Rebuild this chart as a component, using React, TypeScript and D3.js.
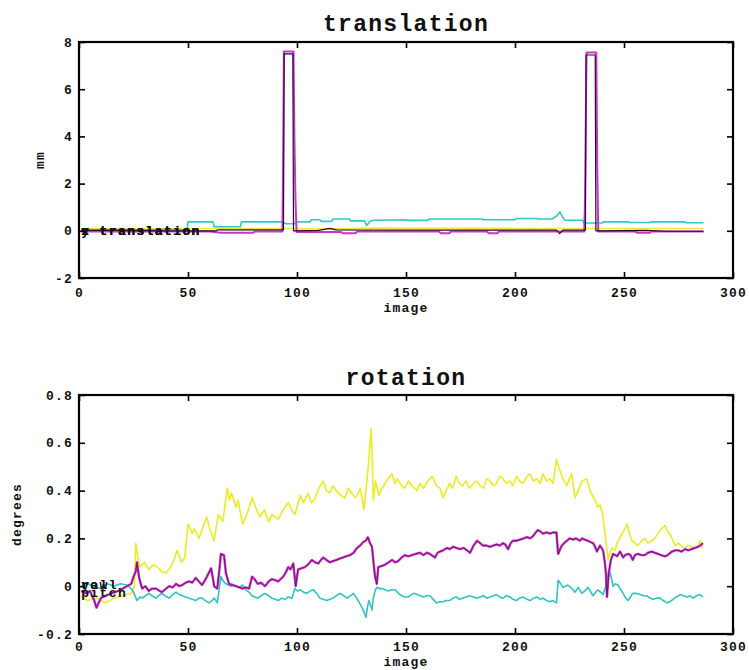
import React, { useEffect, useRef } from "react";
import * as d3 from "d3";

// ---- data (image index, value) ----
const xTicks = [0, 50, 100, 150, 200, 250, 300];
const transTicks = [-2, 0, 2, 4, 6, 8];
const rotTicks = [-0.2, 0, 0.2, 0.4, 0.6, 0.8];

type Pt = [number, number];

const transYellow: Pt[] = [
  [1, 0.08], [50, 0.1], [93, 0.1], [99, 0.1], [102, 0.08], [123, 0.08], [130, 0.12], [200, 0.1], [286.5, 0.1],
];

const transCyan: Pt[] = [
  [1, 0.05], [10, 0.04], [20, 0.05], [30, 0.04], [40, 0.05], [49.5, 0.05], [50, 0.38], [61.5, 0.38], [62, 0.17],
  [74, 0.17], [74.5, 0.38], [93, 0.38], [95, 0.3], [99, 0.3], [99.5, 0.38], [106, 0.38], [106.5, 0.47],
  [110.5, 0.47], [111, 0.4], [116, 0.4], [116.5, 0.5], [124, 0.5], [124.5, 0.42], [131, 0.42], [132, 0.22],
  [133.5, 0.4], [135, 0.45], [150, 0.47], [150.5, 0.44], [160, 0.44], [160.5, 0.5], [185, 0.5], [185.5, 0.47],
  [200, 0.47], [200.5, 0.52], [210, 0.52], [210.5, 0.5], [217, 0.5], [219, 0.62], [220.6, 0.8], [222, 0.55],
  [223, 0.45], [231, 0.45], [231.5, 0.33], [240, 0.33], [240.5, 0.38], [252, 0.38], [252.5, 0.35], [262, 0.35],
  [262.5, 0.38], [278, 0.38], [278.5, 0.34], [286.5, 0.34],
];

const transMagenta: Pt[] = [
  [1, -0.03], [60, -0.03], [65, -0.08], [80, -0.08], [80.5, -0.03], [93.3, -0.03], [93.6, 2.7], [94, 7.6],
  [98.4, 7.6], [98.8, 4.0], [99.3, 1.3], [99.8, -0.05], [120, -0.05], [121, -0.1], [127, -0.1], [127.5, -0.03],
  [165, -0.03], [166, -0.1], [170, -0.1], [170.5, -0.03], [187, -0.03], [188, -0.1], [192, -0.1], [192.5, -0.03],
  [231.8, -0.03], [232.1, 1.3], [232.4, 3.9], [232.8, 7.55], [237.3, 7.55], [237.7, 2.9], [238.2, -0.03],
  [255, -0.03], [256, -0.08], [262, -0.08], [262.5, -0.03], [286.5, -0.03],
];

const transDark: Pt[] = [
  [1, 0.02], [20, 0.02], [40, 0.0], [63, 0.0], [63.5, 0.04], [93.8, 0.04], [94.1, 7.5], [98.1, 7.5], [98.4, 0.0],
  [110, 0.02], [115, 0.1], [118, 0.04], [150, 0.03], [200, 0.03], [219, 0.03], [220.5, -0.12], [222, 0.03],
  [232.3, 0.03], [232.6, 7.45], [236.8, 7.45], [237.1, 0.0], [260, 0.02], [270, -0.02], [286.5, -0.02],
];

const rotYellow: Pt[] = [
  [1, -0.04], [4, -0.06], [8, -0.05], [12, -0.07], [16, -0.05], [20, -0.04], [24, -0.03], [25.5, 0.0], [26, 0.18],
  [27, 0.12], [28, 0.08], [30, 0.1], [32, 0.07], [34, 0.09], [36, 0.08], [38, 0.06], [40, 0.055], [42, 0.08],
  [44, 0.12], [45, 0.15], [47, 0.1], [48.5, 0.12], [50, 0.26], [52, 0.22], [53, 0.24], [55, 0.2], [57, 0.25],
  [58.6, 0.29], [60, 0.24], [62, 0.19], [63, 0.25], [64, 0.3], [66, 0.27], [68, 0.41], [69, 0.36], [70, 0.39],
  [72, 0.33], [73, 0.36], [75, 0.26], [77, 0.3], [79.5, 0.37], [81, 0.33], [83, 0.29], [85, 0.32], [87, 0.27],
  [88.5, 0.3], [90, 0.29], [91.5, 0.28], [93, 0.31], [96, 0.35], [97.5, 0.32], [99, 0.3], [101.5, 0.38],
  [103, 0.35], [105, 0.39], [106.5, 0.35], [108, 0.36], [110, 0.41], [112, 0.44], [113.5, 0.4], [115, 0.39],
  [116.5, 0.42], [118, 0.4], [120, 0.38], [122, 0.37], [123.5, 0.41], [125, 0.39], [127, 0.37], [129, 0.41],
  [130.7, 0.32], [132.6, 0.49], [134, 0.66], [134.6, 0.5], [135, 0.36], [136, 0.44], [137.5, 0.38], [139, 0.41],
  [141, 0.44], [143.6, 0.47], [145, 0.43], [146, 0.45], [148, 0.42], [149.5, 0.41], [151, 0.44], [152.7, 0.42],
  [155, 0.4], [156.5, 0.43], [158, 0.41], [160, 0.44], [162, 0.46], [164, 0.42], [165.6, 0.41], [167, 0.37],
  [168.5, 0.4], [170, 0.43], [171.5, 0.41], [173, 0.46], [174.5, 0.43], [176, 0.42], [177.5, 0.44], [179, 0.41],
  [181, 0.43], [182.5, 0.44], [184, 0.42], [185.5, 0.41], [187, 0.45], [188.5, 0.44], [190, 0.42], [191.5, 0.43],
  [193, 0.46], [194.5, 0.45], [196, 0.43], [197.7, 0.44], [199, 0.42], [200.7, 0.46], [202, 0.44], [203.7, 0.43],
  [205.5, 0.46], [206.9, 0.47], [208.5, 0.44], [210, 0.45], [211.5, 0.43], [212.8, 0.47], [214.5, 0.44],
  [216, 0.45], [217.5, 0.43], [219, 0.53], [220, 0.5], [221.5, 0.46], [222.5, 0.44], [223.8, 0.42], [225, 0.45],
  [226, 0.47], [227.5, 0.37], [229, 0.4], [230.7, 0.44], [233, 0.45], [234.4, 0.4], [235.5, 0.38], [236.7, 0.36],
  [238, 0.33], [239, 0.34], [240, 0.31], [241.3, 0.22], [242.7, 0.11], [243.5, 0.14], [244.5, 0.16], [246, 0.15],
  [246.8, 0.18], [248, 0.2], [249, 0.22], [250.5, 0.24], [251.4, 0.26], [252.5, 0.22], [253.7, 0.19], [255, 0.18],
  [256.4, 0.17], [258, 0.19], [259.6, 0.2], [261, 0.18], [262.8, 0.19], [264, 0.2], [265.6, 0.22], [267, 0.24],
  [268.8, 0.255], [270, 0.23], [271, 0.22], [272.5, 0.19], [273.4, 0.17], [275, 0.18], [276.6, 0.165],
  [278, 0.16], [279.4, 0.17], [281, 0.165], [282.6, 0.16], [284, 0.17], [284.9, 0.19], [286, 0.16],
];

const rotPurple: Pt[] = [
  [1, -0.02], [3, -0.03], [5, -0.02], [7, -0.06], [8, -0.09], [9, -0.07], [10, -0.05], [12, -0.04], [15, -0.03],
  [18, -0.02], [20, -0.01], [22, 0.0], [24, 0.01], [25, 0.04], [26, 0.06], [26.6, 0.1], [27.5, 0.04], [28, 0.02],
  [29, -0.01], [30.5, 0.0], [32, -0.02], [33.5, -0.01], [35.3, -0.01], [37, -0.02], [38, -0.025], [40, -0.01],
  [41.3, 0.0], [43, -0.005], [44.5, 0.01], [46, 0.0], [47.4, 0.005], [49, 0.015], [50.5, 0.02], [52, 0.015],
  [53.5, 0.035], [55, 0.02], [56.4, 0.005], [57.5, 0.02], [58.7, 0.04], [60.6, 0.075], [61.3, 0.04], [62, 0.0],
  [63.4, -0.01], [64.3, 0.06], [65.1, 0.135], [66.5, 0.13], [67.4, 0.055], [68.8, 0.01], [70.5, 0.005], [72, 0.0],
  [73.5, -0.005], [75, -0.01], [76.5, -0.005], [78, -0.01], [79.4, 0.04], [80.5, 0.03], [82, 0.01], [83.5, 0.015],
  [85.3, 0.0], [87, 0.02], [88.5, 0.03], [90, 0.025], [91.4, 0.02], [92.5, 0.03], [93.7, 0.04], [95, 0.06],
  [96, 0.08], [97, 0.07], [98.3, 0.095], [99.4, 0.0], [100.5, 0.07], [102, 0.075], [103.6, 0.08], [105, 0.09],
  [106.8, 0.11], [108.3, 0.1], [109.8, 0.095], [111, 0.11], [112, 0.12], [113.5, 0.11], [115, 0.1], [116.5, 0.105],
  [118.2, 0.11], [119.5, 0.115], [121, 0.12], [122.5, 0.125], [124.3, 0.13], [126, 0.14], [127.5, 0.16],
  [129, 0.17], [130.4, 0.185], [131.5, 0.19], [132.5, 0.205], [133.5, 0.18], [134.4, 0.165], [135.2, 0.09],
  [135.8, 0.04], [136.6, 0.01], [137.3, 0.08], [139, 0.085], [140.4, 0.09], [142, 0.1], [143.6, 0.11], [145, 0.1],
  [146.4, 0.105], [148, 0.12], [149.5, 0.13], [151, 0.125], [152.7, 0.13], [154.5, 0.135], [156.4, 0.14],
  [158, 0.13], [159.5, 0.14], [161, 0.135], [163.3, 0.12], [164.5, 0.14], [165.6, 0.145], [167, 0.15],
  [168.8, 0.16], [170, 0.155], [171.6, 0.165], [173, 0.16], [174.8, 0.155], [176.5, 0.16], [178, 0.15],
  [179.4, 0.14], [181, 0.17], [182.6, 0.19], [184, 0.18], [185.3, 0.17], [187, 0.17], [188.5, 0.165], [190, 0.17],
  [191.7, 0.175], [193, 0.17], [194.5, 0.18], [195.5, 0.175], [196.8, 0.155], [198, 0.18], [199, 0.19],
  [200.5, 0.19], [202.3, 0.195], [204, 0.2], [205.5, 0.205], [207, 0.2], [208.3, 0.21], [209.5, 0.225],
  [210.5, 0.235], [211.5, 0.23], [212.8, 0.22], [214.5, 0.225], [216, 0.22], [217.5, 0.225], [219, 0.225],
  [219.8, 0.135], [220.5, 0.15], [221.5, 0.17], [222.5, 0.18], [223.8, 0.19], [225, 0.2], [226.6, 0.195],
  [228, 0.2], [229.8, 0.19], [230.7, 0.2], [232, 0.195], [233.5, 0.19], [234.5, 0.185], [235.8, 0.18],
  [236.5, 0.17], [237.6, 0.145], [239, 0.17], [240.4, 0.15], [241.2, 0.1], [241.7, 0.055], [242.2, -0.045],
  [243, 0.055], [244, 0.11], [245, 0.135], [246, 0.13], [246.8, 0.125], [248.2, 0.145], [249.6, 0.12],
  [250.5, 0.13], [251.9, 0.135], [253, 0.13], [254, 0.11], [255, 0.13], [256.4, 0.135], [258, 0.13],
  [259.6, 0.13], [261, 0.14], [262.8, 0.145], [264, 0.14], [265.6, 0.135], [267, 0.13], [268.8, 0.125],
  [270, 0.13], [272, 0.145], [273.5, 0.15], [274.8, 0.15], [276.5, 0.145], [278, 0.155], [279.5, 0.15],
  [281, 0.155], [282.5, 0.16], [284, 0.165], [285, 0.17], [286.2, 0.18],
];

const rotCyan: Pt[] = [
  [1, 0.0], [4, 0.01], [7, 0.0], [10, -0.01], [13, 0.01], [16, 0.0], [19, 0.01], [22, 0.005], [24, -0.01],
  [25, -0.025], [26.6, -0.06], [28, -0.045], [29, -0.05], [30.5, -0.04], [32, -0.03], [33.5, -0.04],
  [35.3, -0.05], [36.5, -0.04], [38, -0.03], [39.5, -0.04], [41.3, -0.05], [43, -0.035], [44.5, -0.025],
  [46, -0.035], [47.4, -0.04], [49, -0.045], [50.5, -0.05], [52, -0.055], [53.5, -0.06], [55, -0.05],
  [56.4, -0.05], [58, -0.06], [59.6, -0.07], [61, -0.06], [62, -0.05], [63.4, -0.07], [64.2, -0.02],
  [65.1, 0.04], [66.3, 0.02], [67.4, 0.01], [68.5, 0.005], [69.7, 0.0], [71, 0.005], [72, 0.0], [73.5, -0.005],
  [75, 0.005], [76.5, -0.015], [78, -0.025], [79.4, -0.04], [80.7, -0.045], [82, -0.05], [83.5, -0.04],
  [85.3, -0.03], [87, -0.04], [88.5, -0.05], [90, -0.055], [91.4, -0.06], [93, -0.05], [94.5, -0.055],
  [96, -0.045], [97.7, -0.05], [99, -0.01], [100.2, -0.02], [101.5, -0.015], [103, -0.025], [104.6, -0.03],
  [106, -0.02], [107.5, -0.015], [109, -0.03], [110.5, -0.05], [112, -0.055], [113.7, -0.06], [115, -0.055],
  [116.5, -0.05], [118, -0.04], [119.7, -0.03], [121.5, -0.04], [123, -0.05], [124.5, -0.04], [125.8, -0.03],
  [127, -0.045], [128, -0.06], [129.3, -0.08], [130.4, -0.1], [131.6, -0.13], [132.3, -0.09], [133, -0.06],
  [133.8, -0.08], [134.4, -0.1], [135, -0.05], [135.8, -0.02], [136.6, -0.005], [138, -0.01], [139, -0.01],
  [140.5, -0.015], [141.8, -0.02], [143.5, -0.015], [145, -0.015], [146.5, -0.03], [148, -0.04], [149.5, -0.045],
  [151, -0.045], [152.5, -0.035], [154, -0.03], [155, -0.035], [156.5, -0.04], [158, -0.045], [159.5, -0.04],
  [161, -0.04], [162.5, -0.055], [164, -0.07], [165.5, -0.065], [167, -0.065], [168.5, -0.06], [170, -0.06],
  [171.5, -0.05], [173, -0.045], [174.5, -0.055], [176, -0.05], [177.5, -0.045], [179, -0.04], [181, -0.045],
  [182.5, -0.05], [184, -0.045], [185.5, -0.04], [187, -0.05], [188.5, -0.045], [190, -0.04], [191.5, -0.035],
  [193, -0.045], [194.5, -0.05], [196, -0.04], [197.7, -0.045], [199, -0.055], [200.7, -0.06], [202, -0.05],
  [203.7, -0.045], [205.5, -0.055], [206.9, -0.06], [208.5, -0.05], [210, -0.045], [211.5, -0.055],
  [212.8, -0.05], [214.5, -0.06], [216, -0.065], [217.5, -0.06], [219, -0.07], [219.8, 0.025], [221, 0.01],
  [222, -0.005], [223, 0.0], [224.3, 0.005], [225.5, -0.005], [226.6, -0.015], [227.5, -0.025], [229, -0.005],
  [230.7, -0.03], [232, -0.02], [233.5, -0.005], [234.5, -0.02], [235.8, -0.04], [237, -0.025], [238, -0.015],
  [239.3, -0.025], [240.4, -0.035], [241.3, -0.01], [242.2, 0.025], [243.6, 0.06], [244.3, 0.03], [245, 0.0],
  [246, 0.01], [247.2, 0.005], [248.5, -0.015], [249.6, -0.03], [250.8, -0.05], [251.9, -0.06], [253, -0.045],
  [254, -0.03], [255.5, -0.03], [257.3, -0.035], [259, -0.04], [260.6, -0.04], [262, -0.05], [263.3, -0.055],
  [265, -0.05], [266.5, -0.05], [268, -0.06], [269.7, -0.07], [271, -0.065], [272.5, -0.055], [274, -0.045],
  [275.7, -0.035], [277.3, -0.04], [278.9, -0.045], [280.3, -0.04], [281.7, -0.05], [283.3, -0.04],
  [284.9, -0.035], [286.2, -0.045],
];

const FONT = "'Liberation Mono', 'DejaVu Sans Mono', monospace";

export default function App() {
  const ref = useRef<SVGSVGElement>(null);

  useEffect(() => {
    const svg = d3.select(ref.current);
    svg.selectAll("*").remove();

    const panel = (opts: {
      top: number;
      bottom: number;
      yDomain: [number, number];
      yTicks: number[];
      title: string;
      titleY: number;
      yLabel: string;
      yLabelX: number;
      xPad: number;
      series: { data: Pt[]; color: string; width: number }[];
      legends: { text: string; dy: number }[];
    }) => {
      const left = 79;
      const right = 733;
      const x = d3.scaleLinear().domain([0, 300]).range([left, right]);
      const y = d3.scaleLinear().domain(opts.yDomain).range([opts.bottom, opts.top]);
      const g = svg.append("g");

      const line = d3
        .line<Pt>()
        .x((d) => x(d[0]))
        .y((d) => y(d[1]));

      opts.series.forEach((s) => {
        g.append("path")
          .attr("d", line(s.data))
          .attr("fill", "none")
          .attr("stroke", s.color)
          .attr("stroke-width", s.width)
          .attr("stroke-linejoin", "round");
      });

      // legend labels written at the start of the lines (overlapping, as in the original)
      opts.legends.forEach((l) => {
        g.append("text")
          .attr("x", x(1))
          .attr("y", y(0) + l.dy)
          .text(l.text)
          .attr("font-family", FONT)
          .attr("font-weight", "bold")
          .attr("font-size", 13)
          .attr("letter-spacing", 1.4)
          .attr("fill", "#111");
      });

      const fmt = (d: any) => String(d);
      const styleAxis = (a: any) => {
        a.select(".domain").remove();
        a.selectAll("line").attr("stroke", "#000").attr("stroke-width", 1.6);
        a.selectAll("text")
          .attr("font-family", FONT)
          .attr("font-weight", "bold")
          .attr("font-size", 13)
          .attr("letter-spacing", 1.2)
          .attr("fill", "#111");
      };

      const xb = g
        .append("g")
        .attr("transform", `translate(0,${opts.bottom})`)
        .call(d3.axisBottom(x).tickValues(xTicks).tickSize(-6).tickPadding(opts.xPad).tickFormat(fmt));
      styleAxis(xb);
      const xt = g
        .append("g")
        .attr("transform", `translate(0,${opts.top})`)
        .call(d3.axisTop(x).tickValues(xTicks).tickSize(-6).tickFormat(() => ""));
      styleAxis(xt);
      const yl = g
        .append("g")
        .attr("transform", `translate(${left},0)`)
        .call(d3.axisLeft(y).tickValues(opts.yTicks).tickSize(-6).tickPadding(6).tickFormat(fmt));
      styleAxis(yl);
      const yr = g
        .append("g")
        .attr("transform", `translate(${right},0)`)
        .call(d3.axisRight(y).tickValues(opts.yTicks).tickSize(-6).tickFormat(() => ""));
      styleAxis(yr);

      g.append("rect")
        .attr("x", left)
        .attr("y", opts.top)
        .attr("width", right - left)
        .attr("height", opts.bottom - opts.top)
        .attr("fill", "none")
        .attr("stroke", "#000")
        .attr("stroke-width", 2.2);

      g.append("text")
        .attr("x", (left + right) / 2)
        .attr("y", opts.titleY)
        .attr("text-anchor", "middle")
        .attr("font-family", FONT)
        .attr("font-weight", "bold")
        .attr("font-size", 23)
        .attr("letter-spacing", 1.3)
        .attr("fill", "#111")
        .text(opts.title);

      g.append("text")
        .attr("x", (left + right) / 2)
        .attr("y", opts.bottom + opts.xPad + 24)
        .attr("text-anchor", "middle")
        .attr("font-family", FONT)
        .attr("font-weight", "bold")
        .attr("font-size", 13)
        .attr("letter-spacing", 1.2)
        .attr("fill", "#111")
        .text("image");

      g.append("text")
        .attr("transform", `translate(${opts.yLabelX},${(opts.top + opts.bottom) / 2}) rotate(-90)`)
        .attr("text-anchor", "middle")
        .attr("dominant-baseline", "central")
        .attr("font-family", FONT)
        .attr("font-weight", "bold")
        .attr("font-size", 13)
        .attr("letter-spacing", 1.2)
        .attr("fill", "#111")
        .text(opts.yLabel);
    };

    panel({
      top: 42,
      bottom: 278,
      yDomain: [-2, 8],
      yTicks: transTicks,
      title: "translation",
      titleY: 31,
      yLabel: "mm",
      yLabelX: 40,
      xPad: 10,
      series: [
        { data: transYellow, color: "#ecec30", width: 1.6 },
        { data: transCyan, color: "#30c8c8", width: 1.6 },
        { data: transMagenta, color: "#cc33cc", width: 2 },
        { data: transDark, color: "#2a0830", width: 1.2 },
      ],
      legends: [
        { text: "x translation", dy: 4 },
        { text: "y translation", dy: 4 },
        { text: "z translation", dy: 4 },
      ],
    });

    panel({
      top: 395,
      bottom: 634,
      yDomain: [-0.2, 0.8],
      yTicks: rotTicks,
      title: "rotation",
      titleY: 385,
      yLabel: "degrees",
      yLabelX: 17,
      xPad: 8,
      series: [
        { data: rotYellow, color: "#ecec20", width: 1.6 },
        { data: rotCyan, color: "#30c4c4", width: 1.6 },
        { data: rotPurple, color: "#cc33cc", width: 2.4 },
        { data: rotPurple, color: "#6a106a", width: 0.9 },
      ],
      legends: [
        { text: "roll", dy: 3 },
        { text: "yaw", dy: 3 },
        { text: "pitch", dy: 11 },
      ],
    });
  }, []);

  return (
    <svg
      ref={ref}
      width={749}
      height={670}
      style={{ position: "absolute", left: 0, top: 0, background: "#fff" }}
    />
  );
}
